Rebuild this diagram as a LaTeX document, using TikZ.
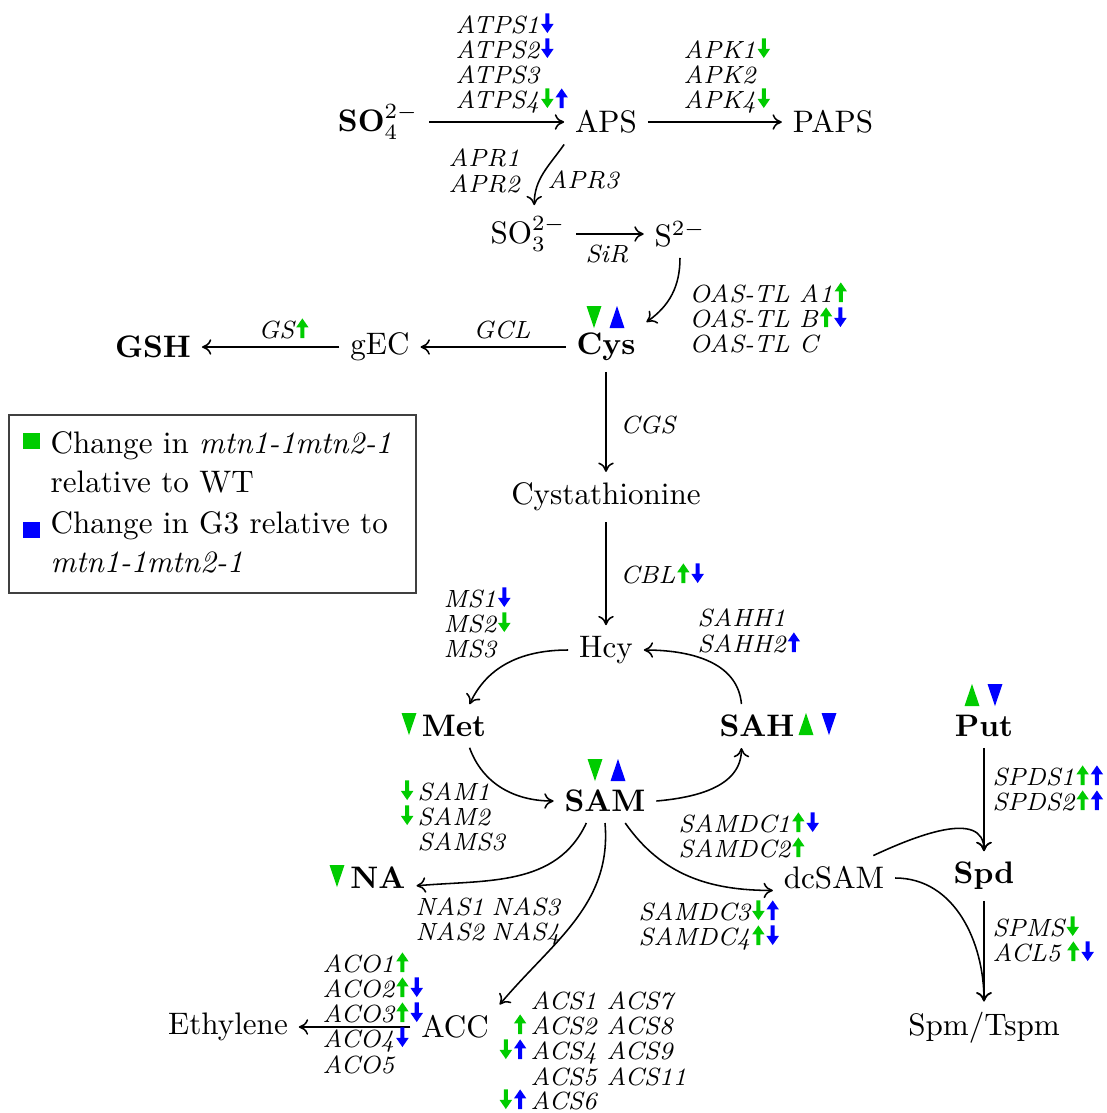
\documentclass[tikz,border=0pt]{standalone}
\usetikzlibrary{arrows.meta}
\definecolor{cgreen}{RGB}{0,204,0}
\definecolor{cblue}{RGB}{0,0,255}
\newcommand{\ArUp}[1]{\tikz[baseline=0pt]\fill[#1] (-0.65pt,0pt) -- (0.65pt,0pt) -- (0.65pt,3.4pt) -- (2pt,3.4pt) -- (0pt,6.3pt) -- (-2pt,3.4pt) -- (-0.65pt,3.4pt) -- cycle;}
\newcommand{\ArDn}[1]{\tikz[baseline=0pt]\fill[#1] (-0.65pt,6.3pt) -- (0.65pt,6.3pt) -- (0.65pt,2.9pt) -- (2pt,2.9pt) -- (0pt,0pt) -- (-2pt,2.9pt) -- (-0.65pt,2.9pt) -- cycle;}
\newcommand{\ArGU}{\hspace{0.6pt}\ArUp{cgreen}}
\newcommand{\ArGD}{\hspace{0.6pt}\ArDn{cgreen}}
\newcommand{\ArBU}{\hspace{0.6pt}\ArUp{cblue}}
\newcommand{\ArBD}{\hspace{0.6pt}\ArDn{cblue}}
\newcommand{\TriUp}[3]{\fill[#1] ({#2-7.5},{#3+11}) -- ({#2+7.5},{#3+11}) -- (#2,{#3-11}) -- cycle;}
\newcommand{\TriDn}[3]{\fill[#1] ({#2-7.5},{#3-11}) -- ({#2+7.5},{#3-11}) -- (#2,{#3+11}) -- cycle;}
\begin{document}
\begin{tikzpicture}[x=0.3215pt,y=-0.3215pt,
  main/.style={inner sep=3.33pt, font=\normalsize},
  bmain/.style={inner sep=3.33pt, font=\normalsize\bfseries},
  lab/.style={anchor=base west, inner sep=0pt, font=\footnotesize\itshape},
  labr/.style={anchor=base east, inner sep=0pt, font=\footnotesize},
  leg/.style={anchor=base west, inner sep=0pt, font=\normalsize},
  conn/.style={-{To[length=3pt,width=5pt]}, line width=0.5pt}]
\useasboundingbox (0,0) rectangle (1107,1113);

% main nodes
\node[bmain] (so4) at (378,122) {SO$_4^{2-}$};
\node[main] (aps) at (606,122) {APS};
\node[main] (paps) at (833,122) {PAPS};
\node[main] (so3) at (528,234) {SO$_3^{2-}$};
\node[main] (s2) at (680,234) {S$^{2-}$};
\node[bmain] (cys) at (606,347) {Cys};
\node[main] (gec) at (380,347) {gEC};
\node[bmain] (gsh) at (153,347) {GSH};
\node[main] (cysta) at (606,497) {Cystathionine};
\node[main] (hcy) at (606,650) {Hcy};
\node[bmain] (met) at (454,726) {Met};
\node[bmain] (sah) at (757,726) {SAH};
\node[bmain] (sam) at (605,801) {SAM};
\node[bmain] (na) at (378,878) {NA};
\node[main] (dcsam) at (834,878) {dcSAM};
\node[bmain] (put) at (984,726) {Put};
\node[bmain] (spd) at (984,876) {Spd};
\node[main] (spm) at (984,1028) {Spm/Tspm};
\node[main] (acc) at (455,1027) {ACC};
\node[main] (eth) at (228,1027) {Ethylene};

% triangles
\TriDn{cgreen}{594}{317}
\TriUp{cblue}{617}{317}
\TriDn{cgreen}{595}{770}
\TriUp{cblue}{618}{770}
\TriDn{cgreen}{409}{724}
\TriUp{cgreen}{806}{724}
\TriDn{cblue}{829}{724}
\TriDn{cgreen}{337}{876}
\TriUp{cgreen}{972}{695}
\TriDn{cblue}{995}{695}

% connectors
\draw[conn] (so4) -- (aps);
\draw[conn] (aps) -- (paps);
\draw[conn] (aps.south west) to[out=235,in=90] ([xshift=2pt]so3.north);
\draw[conn] (so3) -- (s2);
\draw[conn] (s2.south) to[out=-90,in=35] (cys.north east);
\draw[conn] (cys) -- (gec);
\draw[conn] (gec.west) -- (gec.west -| gsh.east);
\draw[conn] (cys) -- (cysta);
\draw[conn] (cysta) -- (hcy);
\draw[conn] (hcy.west) to[out=180,in=65] ([xshift=5pt]met.north);
\draw[conn] ([xshift=-5pt]sah.north) to[out=95,in=0] (hcy.east);
\draw[conn] ([xshift=5pt]met.south) to[out=-70,in=180] (sam.west);
\draw[conn] (sam.east) to[out=5,in=-90] ([xshift=-5pt]sah.south);
\draw[conn] ([xshift=-6pt]sam.south) to[out=-115,in=5] ([yshift=-2.5pt]na.east);
\draw[conn] (sam.south) to[out=-85,in=50] (acc.north east);
\draw[conn] ([xshift=6.5pt]sam.south) to[out=-55,in=180] ([yshift=-4pt]dcsam.west);
\draw[conn] (put) -- (spd);
\draw[conn] ([xshift=-7pt]dcsam.north east) to[out=25,in=90] (spd.north);
\draw[conn] (dcsam.east) to[out=0,in=90] (spm.north);
\draw[conn] (spd) -- (spm);
\draw[conn] (acc.west) -- (acc.west -| eth.east);

% enzyme labels
\node[lab] (atps1) at (455,33) {ATPS1\ArBD};
\node[lab] (atps2) at (455,58) {ATPS2\ArBD};
\node[lab] (atps3) at (455,83) {ATPS3};
\node[lab] (atps4) at (455,108) {ATPS4\ArGD\ArBU};
\node[lab] (apk1) at (683,58) {APK1\ArGD};
\node[lab] (apk2) at (683,83) {APK2};
\node[lab] (apk4) at (683,108) {APK4\ArGD};
\node[lab] (apr1) at (448,166) {APR1};
\node[lab] (apr2) at (448,192) {APR2};
\node[lab] (apr3) at (547,188) {APR3};
\node[lab, anchor=base] (sir) at (607,262) {SiR};
\node[lab] (oasa) at (689,302) {OAS-TL A1\ArGU};
\node[lab] (oasb) at (689,327) {OAS-TL B\ArGU\ArBD};
\node[lab] (oasc) at (689,352) {OAS-TL C};
\node[lab, anchor=base] (gcl) at (502,338) {GCL};
\node[lab] (gs) at (258,338) {GS\ArGU};
\node[lab] (cgs) at (620,433) {CGS};
\node[lab] (cbl) at (620,583) {CBL\ArGU\ArBD};
\node[lab] (ms1) at (443,607) {MS1\ArBD};
\node[lab] (ms2) at (443,632) {MS2\ArGD};
\node[lab] (ms3) at (443,657) {MS3};
\node[lab] (sahh1) at (697,626) {SAHH1};
\node[lab] (sahh2) at (697,652) {SAHH2\ArBU};
\node[labr] (sam1a) at (414,800) {\ArGD};
\node[lab] (sam1) at (417,800) {SAM1};
\node[labr] (sam2a) at (414,825) {\ArGD};
\node[lab] (sam2) at (417,825) {SAM2};
\node[lab] (sams3) at (417,850) {SAMS3};
\node[lab] (nas13) at (415,915) {NAS1\hspace{2.5pt}NAS3};
\node[lab] (nas24) at (415,940) {NAS2\hspace{2.5pt}NAS4};
\node[lab] (samdc1) at (678,832) {SAMDC1\ArGU\ArBD};
\node[lab] (samdc2) at (678,857) {SAMDC2\ArGU};
\node[lab] (samdc3) at (638,920) {SAMDC3\ArGD\ArBU};
\node[lab] (samdc4) at (638,945) {SAMDC4\ArGU\ArBD};
\node[lab] (spds1) at (992,785) {SPDS1\ArGU\ArBU};
\node[lab] (spds2) at (992,810) {SPDS2\ArGU\ArBU};
\node[lab] (spms) at (992,936) {SPMS\ArGD};
\node[lab] (acl5) at (992,961) {ACL5\hspace{1.5pt}\ArGU\ArBD};
\node[lab] (aco1) at (322,972) {ACO1\ArGU};
\node[lab] (aco2) at (322,997) {ACO2\ArGU\ArBD};
\node[lab] (aco3) at (322,1022) {ACO3\ArGU\ArBD};
\node[lab] (aco4) at (322,1047) {ACO4\ArBD};
\node[lab] (aco5) at (322,1073) {ACO5};
\node[lab] (acs1) at (530,1009) {ACS1};
\node[lab] (acs7) at (606,1009) {ACS7};
\node[labr] (acs2a) at (527,1034) {\ArGU};
\node[lab] (acs2) at (530,1034) {ACS2};
\node[lab] (acs8) at (606,1034) {ACS8};
\node[labr] (acs4a) at (527,1059) {\ArGD\ArBU};
\node[lab] (acs4) at (530,1059) {ACS4};
\node[lab] (acs9) at (606,1059) {ACS9};
\node[lab] (acs5) at (530,1085) {ACS5};
\node[lab] (acs11) at (606,1085) {ACS11};
\node[labr] (acs6a) at (527,1109) {\ArGD\ArBU};
\node[lab] (acs6) at (530,1109) {ACS6};

% legend
\draw[black!75, line width=0.5pt] (9,415) rectangle (416,593);
\fill[cgreen] (23,433) rectangle (40,449);
\fill[cblue] (23,522) rectangle (40,538);
\node[leg] (leg1) at (50,453) {Change in \textit{mtn1-1mtn2-1}};
\node[leg] (leg2) at (50,492) {relative to WT};
\node[leg] (leg3) at (50,533) {Change in G3 relative to};
\node[leg] (leg4) at (50,572) {\textit{mtn1-1mtn2-1}};
\end{tikzpicture}
\end{document}
